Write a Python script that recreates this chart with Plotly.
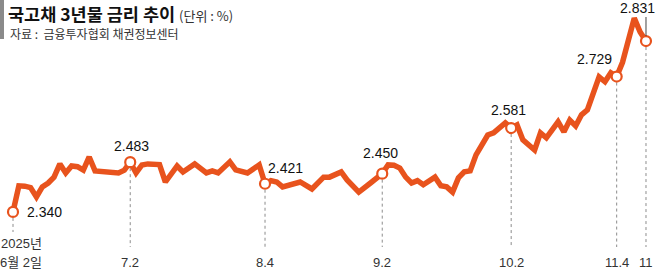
import numpy as np
import plotly.graph_objects as go

# ---- data ----
dates = [
    "2025-06-02", "2025-06-04", "2025-06-05", "2025-06-09", "2025-06-10", "2025-06-11",
    "2025-06-12", "2025-06-13", "2025-06-16", "2025-06-17", "2025-06-18", "2025-06-19",
    "2025-06-20", "2025-06-23", "2025-06-24", "2025-06-30", "2025-07-01", "2025-07-02",
    "2025-07-03", "2025-07-04", "2025-07-07", "2025-07-09", "2025-07-10", "2025-07-14",
    "2025-07-15", "2025-07-17", "2025-07-21", "2025-07-22", "2025-07-23", "2025-07-25",
    "2025-07-28", "2025-07-30", "2025-08-01", "2025-08-04", "2025-08-05", "2025-08-06",
    "2025-08-07", "2025-08-12", "2025-08-14", "2025-08-19", "2025-08-20", "2025-08-22",
    "2025-08-25", "2025-08-27", "2025-08-29", "2025-09-02", "2025-09-03", "2025-09-04",
    "2025-09-05", "2025-09-08", "2025-09-09", "2025-09-10", "2025-09-11", "2025-09-15",
    "2025-09-16", "2025-09-17", "2025-09-18", "2025-09-19", "2025-09-22", "2025-09-23",
    "2025-09-24", "2025-09-26", "2025-09-29", "2025-09-30", "2025-10-01", "2025-10-02",
    "2025-10-10", "2025-10-13", "2025-10-15", "2025-10-16", "2025-10-17", "2025-10-21",
    "2025-10-22", "2025-10-23", "2025-10-24", "2025-10-27", "2025-10-28", "2025-10-30",
    "2025-10-31", "2025-11-03", "2025-11-04", "2025-11-05", "2025-11-07", "2025-11-10",
    "2025-11-11",
]
rates = [
    2.340, 2.415, 2.414, 2.410, 2.383, 2.412,
    2.423, 2.440, 2.478, 2.452, 2.472, 2.470,
    2.460, 2.498, 2.458, 2.452, 2.460, 2.483,
    2.452, 2.475, 2.478, 2.476, 2.426, 2.472,
    2.455, 2.478, 2.452, 2.458, 2.452, 2.484,
    2.461, 2.452, 2.475, 2.421, 2.430, 2.426,
    2.412, 2.426, 2.406, 2.440, 2.440, 2.455,
    2.432, 2.397, 2.423, 2.450, 2.475, 2.474,
    2.466, 2.440, 2.423, 2.430, 2.418, 2.440,
    2.415, 2.412, 2.397, 2.438, 2.455, 2.458,
    2.504, 2.561, 2.567, 2.581, 2.596, 2.581,
    2.590, 2.547, 2.518, 2.567, 2.553, 2.599,
    2.570, 2.604, 2.587, 2.619, 2.633, 2.728,
    2.714, 2.740, 2.729, 2.770, 2.897, 2.857,
    2.831,
]
holidays = ["2025-06-03", "2025-06-06", "2025-08-15", "2025-10-03",
            "2025-10-06", "2025-10-07", "2025-10-08", "2025-10-09"]

highlight_dates = ["2025-06-02", "2025-07-02", "2025-08-04", "2025-09-02",
                   "2025-10-02", "2025-11-04", "2025-11-11"]
highlight_labels = ["2.340", "2.483", "2.421", "2.450", "2.581", "2.729", "2.831"]
tick_labels = ["", "7.2", "8.4", "9.2", "10.2", "11.4", "11"]

# ---- styling ----
LINE = "#E8531D"
W, H = 658, 269
start = dates[0]

def bidx(d):
    return int(np.busday_count(start, d, holidays=holidays))

x = [bidx(d) for d in dates]
val = dict(zip(dates, rates))
hx = [bidx(d) for d in highlight_dates]
hy = [val[d] for d in highlight_dates]

XR = [-2.218, 110.05]
YR = [2.176, 2.949]

def ypx_to_val(py):
    return YR[1] - py / H * (YR[1] - YR[0])

fig = go.Figure()
fig.add_trace(go.Scatter(x=x, y=rates, mode="lines",
                         line=dict(color=LINE, width=5.5), hoverinfo="skip"))
fig.add_trace(go.Scatter(x=hx, y=hy, mode="markers",
                         marker=dict(size=10, color="white", line=dict(color=LINE, width=2.2)),
                         hoverinfo="skip"))

shapes = []
for i, (xi, yi) in enumerate(zip(hx, hy)):
    bottom = ypx_to_val(232 if i == 0 else 247)
    shapes.append(dict(type="line", xref="x", yref="y", x0=xi, x1=xi, y0=yi, y1=bottom,
                       line=dict(color="#8c8c8c", width=1, dash="dot"), layer="below"))
shapes.append(dict(type="rect", xref="paper", yref="paper", x0=0, x1=4 / W,
                   y0=1 - 39 / H, y1=1, fillcolor="#8a8a8a", line=dict(width=0)))
shapes.append(dict(type="line", xref="x", yref="y", x0=hx[-1], x1=hx[-1],
                   y0=ypx_to_val(17), y1=ypx_to_val(36),
                   line=dict(color="#444", width=1)))

annotations = []
NUMFONT = dict(family="Liberation Sans, Arial, sans-serif", size=14, color="#111")
offsets = [  # (xanchor, xshift, yshift)
    ("left", 13, 0), ("center", 1, 16), ("left", 2, 16), ("center", -2, 21),
    ("center", -3, 18), ("right", -4, 18), ("center", -8, 33),
]
for (xa, xs, ys), xi, yi, t in zip(offsets, hx, hy, highlight_labels):
    annotations.append(dict(x=xi, y=yi, xref="x", yref="y", text=t, showarrow=False,
                            xanchor=xa, yanchor="middle", xshift=xs, yshift=ys,
                            borderpad=0, font=NUMFONT))

TICKFONT = dict(family="Liberation Sans, Noto Sans CJK KR, sans-serif", size=13, color="#333")
for xi, t in zip(hx, tick_labels):
    if t:
        annotations.append(dict(x=xi, y=1 - 262 / H, xref="x", yref="paper", text=t,
                                showarrow=False, xanchor="center", yanchor="middle",
                                font=TICKFONT))
annotations.append(dict(x=hx[0], y=1 - 243 / H, xref="x", yref="paper", text="2025년",
                        showarrow=False, xanchor="center", yanchor="middle", xshift=8,
                        font=TICKFONT))
annotations.append(dict(x=hx[0], y=1 - 262 / H, xref="x", yref="paper", text="6월 2일",
                        showarrow=False, xanchor="center", yanchor="middle", xshift=8,
                        font=TICKFONT))

annotations.append(dict(x=7 / W, y=1, xref="paper", yref="paper",
                        text="<b>국고채 3년물 금리 추이</b> <span style='font-size:13px;color:#333'>(단위 : %)</span>",
                        showarrow=False, xanchor="left", yanchor="top", borderpad=0,
                        font=dict(family="Noto Sans CJK KR", size=17.5, color="#111")))
annotations.append(dict(x=9 / W, y=1 - 33 / H, xref="paper", yref="paper",
                        text="자료 :  금융투자협회 채권정보센터",
                        showarrow=False, xanchor="left", yanchor="middle", borderpad=0,
                        font=dict(family="Noto Sans CJK KR", size=12, color="#333")))

fig.update_layout(
    width=W, height=H, margin=dict(l=0, r=0, t=0, b=0),
    paper_bgcolor="white", plot_bgcolor="white", showlegend=False,
    xaxis=dict(range=XR, visible=False, fixedrange=True),
    yaxis=dict(range=YR, visible=False, fixedrange=True),
    shapes=shapes, annotations=annotations,
)
fig.write_html("out.html", config={"displayModeBar": False})
